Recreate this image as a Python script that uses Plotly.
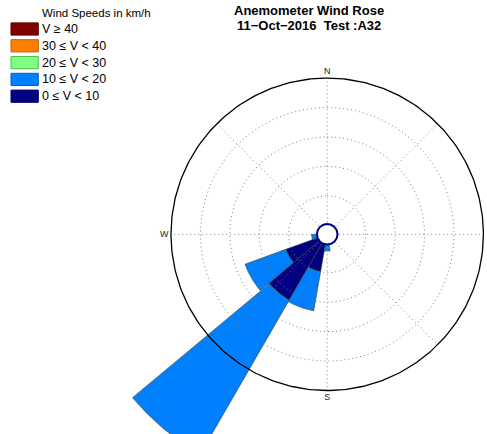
import numpy as np
import plotly.graph_objects as go

W, H = 487, 434

# ---- data (frequency %, by direction sector centre in degrees) ----
directions = [180, 200, 220, 240, 260]
freq_0_10 = [0.0, 7.1, 16.5, 8.6, 0.0]
freq_10_20 = [1.9, 9.8, 43.9, 10.7, 1.6]
freq_20_30 = [0.0, 0.0, 0.0, 0.0, 0.0]
freq_30_40 = [0.0, 0.0, 0.0, 0.0, 0.0]
freq_40_up = [0.0, 0.0, 0.0, 0.0, 0.0]

bin_labels = ["V \u2265 40", "30 \u2264 V < 40", "20 \u2264 V < 30", "10 \u2264 V < 20", "0 \u2264 V < 10"]
bin_colors = ["#800000", "#FF8000", "#80FF80", "#0080FF", "#000080"]
bin_edges = ["#5a0000", "#c06000", "#50c050", "#0060c0", "#000060"]

ring_ticks = [7.25, 14.5, 21.75, 29.0, 36.25]
spoke_angles = [0, 45, 90, 135, 180, 225, 270, 315]
dir_labels = ["N", "S", "W"]
dir_label_theta = [0, 180, 270]

title_lines = ["Anemometer Wind Rose", "11\u2212Oct\u22122016\u00a0\u00a0Test :A32"]
legend_title = "Wind Speeds in km/h"

# ---- layout constants ----
sector_width = 20.0
cx, cy = 327.2, 234.3          # rose centre in pixels (from top-left)
px_per_unit = 29.4 / 7.25      # pixels per 1 % frequency
hub_offset = 9.2 / px_per_unit # radial offset of zero frequency (hub)
hub_radius = 10.3 / px_per_unit
label_gap = 6.8 / px_per_unit
r_max = ring_ticks[-1]


def to_xy(rho, bearing_deg):
    b = np.radians(np.asarray(bearing_deg, dtype=float))
    return rho * np.sin(b), rho * np.cos(b)


def sector(f0, f1, centre):
    a = np.linspace(centre - sector_width / 2, centre + sector_width / 2, 41)
    xo, yo = to_xy(hub_offset + f1, a)
    xi, yi = to_xy(hub_offset + f0, a[::-1])
    x = np.concatenate([xo, xi, xo[:1]])
    y = np.concatenate([yo, yi, yo[:1]])
    return x, y


fig = go.Figure()

# stacked sectors, inner bin first
series = [freq_0_10, freq_10_20, freq_20_30, freq_30_40, freq_40_up]
fill_cols = bin_colors[::-1]
base = np.zeros(len(directions))
for vals, col in zip(series, fill_cols):
    for d, b0, v in zip(directions, base, vals):
        if v <= 0:
            continue
        x, y = sector(b0, b0 + v, d)
        fig.add_trace(go.Scatter(x=x, y=y, mode="lines", fill="toself",
                                 fillcolor=col,
                                 line=dict(color="rgb(50,70,40)", width=0.6),
                                 showlegend=False, hoverinfo="skip"))
    base = base + np.asarray(vals)

# dotted rings
th = np.linspace(0, 360, 361)
rx, ry = [], []
for rv in ring_ticks[:-1]:
    x, y = to_xy(hub_offset + rv, th)
    rx += list(x) + [None]
    ry += list(y) + [None]
fig.add_trace(go.Scatter(x=rx, y=ry, mode="lines",
                         line=dict(color="#808080", width=1, dash="1px,3px"),
                         showlegend=False, hoverinfo="skip"))
# dotted spokes
sx, sy = [], []
for a in spoke_angles:
    x, y = to_xy(np.array([0.0, hub_offset + r_max]), [a, a])
    sx += list(x) + [None]
    sy += list(y) + [None]
fig.add_trace(go.Scatter(x=sx, y=sy, mode="lines",
                         line=dict(color="#808080", width=1, dash="1px,3px"),
                         showlegend=False, hoverinfo="skip"))
# outer circle
ox, oy = to_xy(hub_offset + r_max, th)
fig.add_trace(go.Scatter(x=ox, y=oy, mode="lines", line=dict(color="black", width=1.3),
                         showlegend=False, hoverinfo="skip"))
# centre hub
hx, hy = to_xy(hub_radius, th)
fig.add_trace(go.Scatter(x=hx, y=hy, mode="lines", fill="toself", fillcolor="white",
                         line=dict(color="#000080", width=2),
                         showlegend=False, hoverinfo="skip"))
# compass labels
lx, ly = to_xy(hub_offset + r_max + label_gap, dir_label_theta)
fig.add_trace(go.Scatter(x=lx, y=ly, mode="text", text=dir_labels,
                         textposition="middle center",
                         textfont=dict(family="Liberation Sans", size=9, color="#222"),
                         showlegend=False, hoverinfo="skip", cliponaxis=False))

xr = [-cx / px_per_unit, (W - cx) / px_per_unit]
yr = [-(H - cy) / px_per_unit, cy / px_per_unit]

fig.update_layout(
    width=W, height=H, margin=dict(l=0, r=0, t=0, b=0),
    paper_bgcolor="white", plot_bgcolor="white",
    showlegend=False,
    xaxis=dict(range=xr, visible=False, showgrid=False, zeroline=False, fixedrange=True),
    yaxis=dict(range=yr, visible=False, showgrid=False, zeroline=False, fixedrange=True),
)


def px(x):
    return x / W


def py(y):
    return 1 - y / H


ann = []
for txt, yy in zip(title_lines, [10.7, 25.0]):
    ann.append(dict(x=px(309), y=py(yy), xref="paper", yref="paper", text=txt,
                    showarrow=False, xanchor="center", yanchor="middle",
                    font=dict(family="Liberation Sans", size=13, color="black", weight="bold")))
ann.append(dict(x=px(40), y=py(13.3), xref="paper", yref="paper", text=legend_title,
                showarrow=False, xanchor="left", yanchor="middle",
                font=dict(family="Liberation Sans", size=11.5, color="black")))

shapes = []
for i, (lab, col, ec) in enumerate(zip(bin_labels, bin_colors, bin_edges)):
    yc = 29.0 + 16.8 * i
    shapes.append(dict(type="rect", xref="paper", yref="paper",
                       x0=px(11), x1=px(38.3), y0=py(yc + 6.1), y1=py(yc - 6.1),
                       fillcolor=col, line=dict(color=ec, width=1)))
    ann.append(dict(x=px(40), y=py(yc), xref="paper", yref="paper", text=lab,
                    showarrow=False, xanchor="left", yanchor="middle",
                    font=dict(family="Liberation Sans", size=12.5, color="black")))

fig.update_layout(annotations=ann, shapes=shapes)
fig.write_html("out.html", config={"displayModeBar": False},
               post_script="document.body.style.margin='0px';")
